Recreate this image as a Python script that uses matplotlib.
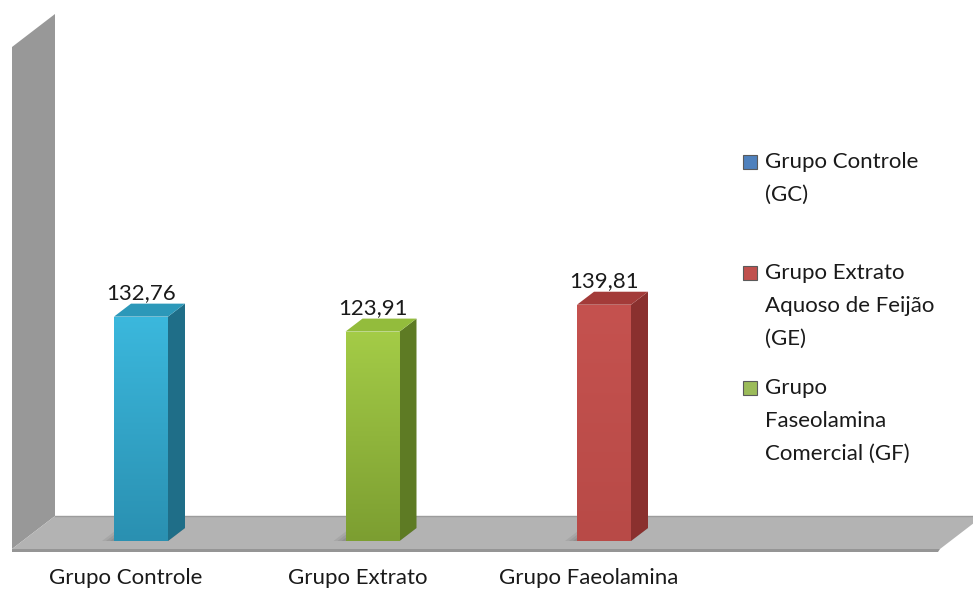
import numpy as np
import matplotlib
matplotlib.use("Agg")
import matplotlib.pyplot as plt
from matplotlib.patches import Polygon, Rectangle
from matplotlib.colors import LinearSegmentedColormap

categories = ["Grupo Controle", "Grupo Extrato", "Grupo Faeolamina"]
values = [132.76, 123.91, 139.81]
value_labels = ["132,76", "123,91", "139,81"]
legend_labels = ["Grupo Controle\n(GC)",
                 "Grupo Extrato\nAquoso de Feijão\n(GE)",
                 "Grupo\nFaseolamina\nComercial (GF)"]
legend_colors = ["#4F81BD", "#C0504D", "#9BBB59"]

# bar shading: front top, front bottom, side, top face
bar_colors = [
    ("#3BB8DD", "#2A90B1", "#1F6E88", "#2C98B9"),
    ("#A4CC47", "#7C9E31", "#5E7B24", "#93BC3C"),
    ("#C5524F", "#B84A47", "#8A302E", "#A33B39"),
]

W, H = 973, 592
PX0, PXS = 141.0, 231.5   # pixel x of first category, pixels per category
PY0, PYS = 541.0, 1.69    # pixel y of zero, pixels per unit

HALF_W = 27 / PXS
DDX, DDY = 17 / PXS, 13 / PYS           # bar depth
FDX, FDY = 43 / PXS, 33 / PYS           # floor / wall depth
FLOOR_Y = -(549 - PY0) / PYS
FLOOR_X0, FLOOR_X1 = (12 - PX0) / PXS, (940 - PX0) / PXS
WALL_TOP = (PY0 - 47) / PYS

plt.rcParams["font.family"] = ["Lato", "DejaVu Sans"]
FS = 16

fig = plt.figure(figsize=(W / 100, H / 100), dpi=100)
ax = fig.add_axes((0, 0, 1, 1))
ax.axis("off")

# left wall
ax.add_patch(Polygon([(FLOOR_X0, FLOOR_Y), (FLOOR_X0, WALL_TOP),
                      (FLOOR_X0 + FDX, WALL_TOP + FDY), (FLOOR_X0 + FDX, FLOOR_Y + FDY)],
                     closed=True, fc="#989898", ec="none", zorder=1))
# floor
ax.add_patch(Polygon([(FLOOR_X0, FLOOR_Y), (FLOOR_X1, FLOOR_Y),
                      (FLOOR_X1 + FDX, FLOOR_Y + FDY), (FLOOR_X0 + FDX, FLOOR_Y + FDY)],
                     closed=True, fc="#B3B3B3", ec="none", zorder=2))
ax.plot([FLOOR_X0 + FDX, FLOOR_X1 + FDX], [FLOOR_Y + FDY] * 2, color="#9C9C9C", lw=1, zorder=2)
ax.add_patch(Polygon([(FLOOR_X0, FLOOR_Y), (FLOOR_X1, FLOOR_Y),
                      (FLOOR_X1 - 2 / PXS, FLOOR_Y - 3 / PYS), (FLOOR_X0, FLOOR_Y - 3 / PYS)],
                     closed=True, fc="#959595", ec="none", zorder=2))

for i, (v, (ctop, cbot, cside, ctopface)) in enumerate(zip(values, bar_colors)):
    x0, x1 = i - HALF_W, i + HALF_W
    # soft shadow on the floor
    for k, a in enumerate([0.10, 0.10, 0.12]):
        s = (3 - k) * 4 / PXS
        ax.add_patch(Polygon([(x0 - s, 0), (x1, 0), (x1 + DDX, DDY), (x0 + DDX - s, DDY)],
                             closed=True, fc="#404040", ec="none", alpha=a, zorder=3))
    # side face
    ax.add_patch(Polygon([(x1, 0), (x1 + DDX, DDY), (x1 + DDX, v + DDY), (x1, v)],
                         closed=True, fc=cside, ec="none", zorder=4))
    # top face
    ax.add_patch(Polygon([(x0, v), (x1, v), (x1 + DDX, v + DDY), (x0 + DDX, v + DDY)],
                         closed=True, fc=ctopface, ec="none", zorder=4))
    # front face with vertical gradient
    cmap = LinearSegmentedColormap.from_list("g%d" % i, [cbot, ctop])
    grad = np.linspace(0, 1, 256).reshape(-1, 1)
    im = ax.imshow(grad, extent=(x0, x1, 0, v), origin="lower", aspect="auto",
                   cmap=cmap, zorder=5)
    rect = Rectangle((x0, 0), x1 - x0, v, fc="none", ec="none", zorder=5)
    ax.add_patch(rect)
    im.set_clip_path(rect)
    ax.annotate(value_labels[i], xy=(i, v), xytext=(0, 17), textcoords="offset points",
                ha="center", va="center", fontsize=FS, color="#1a1a1a", zorder=6)
    ax.text(i - 15 / PXS, -(578 - PY0) / PYS, categories[i], ha="center", va="center",
            fontsize=FS, color="#1a1a1a")

ax.set_xlim(-PX0 / PXS, (W - PX0) / PXS)
ax.set_ylim((PY0 - H) / PYS, PY0 / PYS)

# legend
legend_tops = [162, 273, 388]
for lab, col, yc in zip(legend_labels, legend_colors, legend_tops):
    fig.patches.append(Rectangle((743 / W, 1 - (yc + 7) / H), 14 / W, 14 / H,
                                 transform=fig.transFigure, fc=col,
                                 ec="#5a5a5a", lw=0.8, figure=fig))
    fig.text(765 / W, 1 - (yc - 10) / H, lab, ha="left", va="top", fontsize=FS,
             color="#1a1a1a", linespacing=1.82)

fig.savefig("out.png", dpi=100)
